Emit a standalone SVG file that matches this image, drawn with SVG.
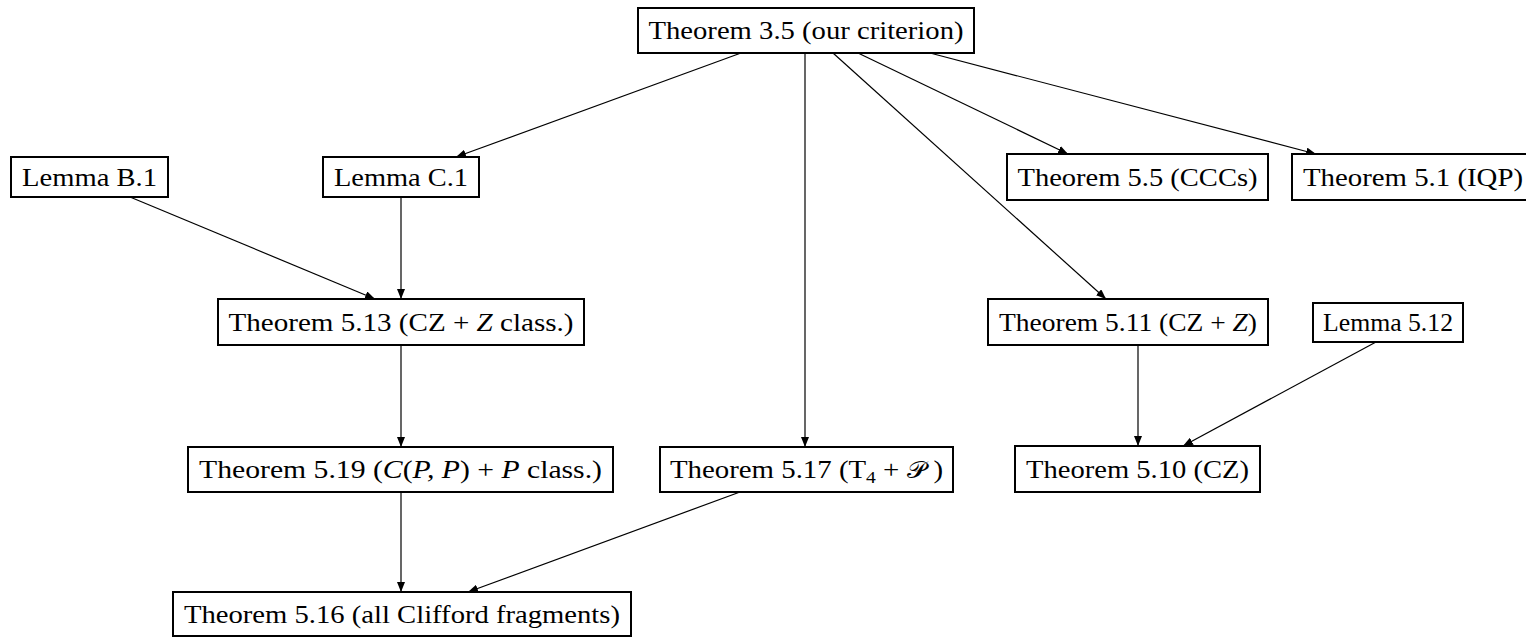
<svg xmlns="http://www.w3.org/2000/svg" width="1526" height="637" viewBox="0 0 1526 637">
<style>
.box{fill:#fff;stroke:#000;stroke-width:2}
.t{font-family:"Liberation Serif","DejaVu Serif",serif;font-size:25px;fill:#000;text-anchor:middle}
.i{font-style:italic}
.e{stroke:#000;stroke-width:1.2;fill:none;marker-end:url(#ah)}
</style>
<defs>
<marker id="ah" viewBox="0 0 10 8" refX="10" refY="4" markerWidth="10" markerHeight="8" markerUnits="userSpaceOnUse" orient="auto">
<path d="M0,0 L10,4 L0,8 Z" fill="#000"/>
</marker>
</defs>
<rect width="1526" height="637" fill="#fff"/>
<g id="connectors">
<line class="e" x1="741" y1="53" x2="456" y2="157"/>
<line class="e" x1="805" y1="53" x2="805" y2="447"/>
<line class="e" x1="833" y1="53" x2="1106" y2="299"/>
<line class="e" x1="858" y1="53" x2="1068" y2="154"/>
<line class="e" x1="930" y1="53" x2="1316" y2="154"/>
<line class="e" x1="130" y1="197" x2="375" y2="299"/>
<line class="e" x1="401" y1="197" x2="401" y2="299"/>
<line class="e" x1="401" y1="345" x2="401" y2="447"/>
<line class="e" x1="1138" y1="345" x2="1138" y2="446"/>
<line class="e" x1="1376" y1="342" x2="1183" y2="446"/>
<line class="e" x1="401" y1="492" x2="401" y2="592"/>
<line class="e" x1="740" y1="492" x2="468" y2="592"/>
</g>
<g id="n35"><rect class="box" x="638" y="8" width="336" height="45"/><text class="t" x="806" y="39" textLength="315" lengthAdjust="spacingAndGlyphs">Theorem 3.5 (our criterion)</text></g>
<g id="nB1"><rect class="box" x="11" y="157" width="157" height="40"/><text class="t" x="89.5" y="186" textLength="135" lengthAdjust="spacingAndGlyphs">Lemma B.1</text></g>
<g id="nC1"><rect class="box" x="323" y="157" width="156" height="40"/><text class="t" x="401" y="186" textLength="134" lengthAdjust="spacingAndGlyphs">Lemma C.1</text></g>
<g id="n55"><rect class="box" x="1007" y="154" width="261" height="46"/><text class="t" x="1137.5" y="186" textLength="240" lengthAdjust="spacingAndGlyphs">Theorem 5.5 (CCCs)</text></g>
<g id="n51"><rect class="box" x="1292" y="154" width="250" height="46"/><text class="t" x="1413" y="186" textLength="220" lengthAdjust="spacingAndGlyphs">Theorem 5.1 (IQP)</text></g>
<g id="n513"><rect class="box" x="218" y="299" width="366" height="46"/><text class="t" x="401" y="331" textLength="345" lengthAdjust="spacingAndGlyphs">Theorem 5.13 (CZ + <tspan class="i">Z</tspan> class.)</text></g>
<g id="n511"><rect class="box" x="988" y="299" width="280" height="46"/><text class="t" x="1128" y="331" textLength="258" lengthAdjust="spacingAndGlyphs">Theorem 5.11 (CZ + <tspan class="i">Z</tspan>)</text></g>
<g id="n512"><rect class="box" x="1313" y="303" width="150" height="39"/><text class="t" x="1388" y="331" textLength="130" lengthAdjust="spacingAndGlyphs">Lemma 5.12</text></g>
<g id="n519"><rect class="box" x="188" y="447" width="425" height="45"/><text class="t" x="400.5" y="478" textLength="403" lengthAdjust="spacingAndGlyphs">Theorem 5.19 (<tspan class="i">C</tspan>(<tspan class="i">P, P</tspan>) + <tspan class="i">P</tspan> class.)</text></g>
<g id="n517"><rect class="box" x="660" y="447" width="293" height="45"/><text class="t" x="806.5" y="478" textLength="273" lengthAdjust="spacingAndGlyphs">Theorem 5.17 (T<tspan font-size="17" dy="5">4</tspan><tspan dy="-5"> + </tspan><tspan font-family="DejaVu Sans,sans-serif" font-size="23">𝒫</tspan> )</text></g>
<g id="n510"><rect class="box" x="1015" y="446" width="245" height="46"/><text class="t" x="1137.5" y="478" textLength="223" lengthAdjust="spacingAndGlyphs">Theorem 5.10 (CZ)</text></g>
<g id="n516"><rect class="box" x="173" y="592" width="458" height="44"/><text class="t" x="402" y="623" textLength="436" lengthAdjust="spacingAndGlyphs">Theorem 5.16 (all Clifford fragments)</text></g>
</svg>
